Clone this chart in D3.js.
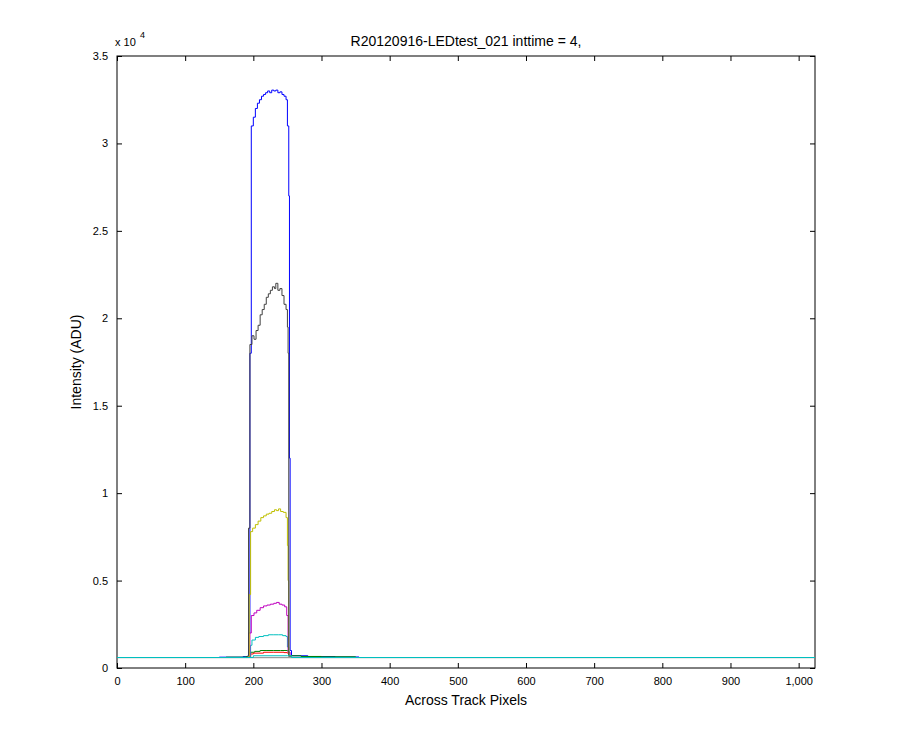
<!DOCTYPE html>
<html><head><meta charset="utf-8">
<script src="https://cdn.jsdelivr.net/npm/d3@7"></script>
<style>body{margin:0;background:#fff}text{font-family:Arial,"Liberation Sans",sans-serif}</style>
</head><body><div id="chart"></div>
<script>
// series: [pixel, ADU]
const blue = [[20,600],[150,620],[185,650],[192,700],[193,2000],[195,18000],[197,31000],[200,31500],[203,32000],[206,32300],[209,32500],[212,32700],[215,32800],[218,32900],[221,33000],[224,32900],[227,33050],[230,33000],[233,33050],[236,32900],[239,32950],[242,32800],[245,32700],[248,32500],[250,31000],[252,27000],[253,12000],[254,1000],[256,700],[280,650],[320,630],[355,600]];
const black = [[192,700],[193,8000],[195,18500],[198,19000],[201,18800],[204,19300],[207,19600],[210,20200],[213,20500],[216,20800],[219,21200],[222,21400],[225,21600],[228,21800],[231,21700],[233,22000],[236,21600],[239,21700],[242,21300],[245,20800],[248,20500],[250,19500],[251,18000],[252,700],[254,650]];
const yellow = [[192,650],[194,4200],[196,7800],[199,8000],[203,8200],[207,8400],[211,8600],[215,8700],[219,8800],[223,8850],[227,8950],[231,9050],[234,9000],[237,9100],[240,8950],[244,8900],[248,8600],[250,7000],[251,5000],[252,700],[255,650]];
const magenta = [[192,650],[195,2000],[197,3000],[201,3150],[205,3300],[210,3450],[215,3550],[220,3600],[225,3650],[230,3700],[234,3750],[238,3650],[242,3600],[246,3500],[249,3000],[251,900],[254,650]];
const cyanTop = [[192,650],[196,1300],[198,1600],[203,1750],[208,1800],[215,1850],[222,1900],[230,1900],[237,1900],[243,1850],[248,1800],[250,1200],[252,700],[255,650]];
const green = [[20,600],[160,620],[190,650],[196,900],[202,950],[210,1000],[220,1000],[230,1000],[240,1000],[250,980],[252,700],[270,660],[300,640],[350,610]];
const red = [[192,640],[196,800],[200,850],[215,900],[230,900],[245,880],[250,850],[252,650]];
const cyanBase = [[0,600],[190,600],[200,700],[250,700],[256,600],[1024,600]];
const greyBase = [[0,590],[1024,590]];

const series = [
  {d: greyBase, c: "#888888"},
  {d: blue, c: "#0000ff"},
  {d: green, c: "#008000"},
  {d: red, c: "#ff0000"},
  {d: cyanTop, c: "#00bfbf"},
  {d: magenta, c: "#bf00bf"},
  {d: yellow, c: "#bfbf00"},
  {d: black, c: "#404040"},
  {d: cyanBase, c: "#00bfbf"}
];
const xTicks = [0,100,200,300,400,500,600,700,800,900,1000];
const yTicks = [0,0.5,1,1.5,2,2.5,3,3.5];

const margin = {top: 56, left: 117, right: 85, bottom: 82};
const W = 900, H = 750;
const w = W - margin.left - margin.right, h = H - margin.top - margin.bottom;

const svg = d3.select("#chart").append("svg").attr("width", W).attr("height", H);
const g = svg.append("g").attr("transform", `translate(${margin.left},${margin.top})`);

const x = d3.scaleLinear().domain([0, 1024]).range([0, w]);
const y = d3.scaleLinear().domain([0, 35000]).range([h, 0]);

g.append("rect").attr("width", w).attr("height", h).attr("fill", "#fff").attr("stroke", "#000");

const tickStyle = sel => {
  sel.select(".domain").remove();
  sel.selectAll("text").attr("font-size", 11).attr("fill", "#000");
  sel.selectAll("line").attr("stroke", "#000");
};
g.append("g").attr("transform", `translate(0,${h})`)
  .call(d3.axisBottom(x).tickValues(xTicks).tickSize(-5).tickPadding(9)).call(tickStyle);
g.append("g").call(d3.axisTop(x).tickValues(xTicks).tickSize(-5).tickFormat("")).call(tickStyle);
g.append("g").call(d3.axisLeft(y).tickValues(yTicks.map(v => v * 1e4)).tickSize(-5).tickPadding(9).tickFormat(v => d3.format("")(+(v / 1e4).toFixed(1)))).call(tickStyle);
g.append("g").attr("transform", `translate(${w},0)`)
  .call(d3.axisRight(y).tickValues(yTicks.map(v => v * 1e4)).tickSize(-5).tickFormat("")).call(tickStyle);

const line = d3.line().x(d => x(d[0])).y(d => y(d[1])).curve(d3.curveStepAfter);
g.append("g").selectAll("path").data(series).join("path")
  .attr("d", s => line(s.d)).attr("fill", "none").attr("stroke", s => s.c).attr("stroke-width", 1);

g.append("text").attr("x", -2).attr("y", -10).attr("font-size", 11).text("x 10");
g.append("text").attr("x", 23).attr("y", -18).attr("font-size", 9).text("4");

svg.append("text").attr("x", margin.left + w / 2).attr("y", 46).attr("text-anchor", "middle").attr("font-size", 14).text("R20120916-LEDtest_021 inttime = 4,");
svg.append("text").attr("x", margin.left + w / 2).attr("y", 705).attr("text-anchor", "middle").attr("font-size", 14).text("Across Track Pixels");
svg.append("text").attr("transform", `translate(81,${margin.top + h / 2}) rotate(-90)`).attr("text-anchor", "middle").attr("font-size", 14).text("Intensity (ADU)");
</script></body></html>
